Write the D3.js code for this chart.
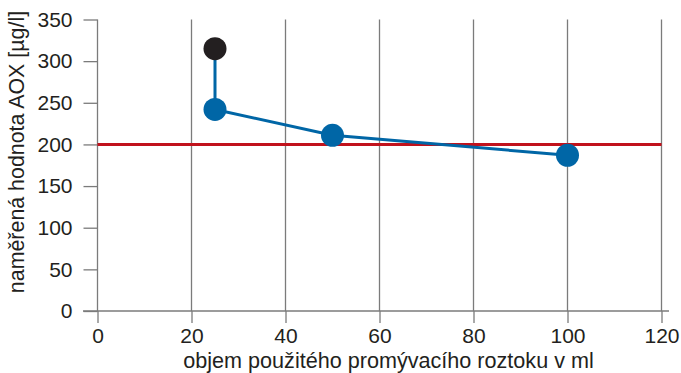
<!DOCTYPE html>
<html><head><meta charset="utf-8">
<script src="https://cdn.jsdelivr.net/npm/d3@7"></script>
<style>body{margin:0;background:#fff}svg{display:block}text{font-family:"Liberation Sans",Arial,sans-serif;fill:#231f20}</style>
</head><body>
<svg id="c" width="681" height="373"></svg>
<script>
const xVals = [25, 25, 50, 100];
const yVals = [315, 242, 211, 187];
const firstPointBlack = true;
const limitValue = 200;
const xTicks = [0, 20, 40, 60, 80, 100, 120];
const yTicks = [0, 50, 100, 150, 200, 250, 300, 350];
const xLabel = "objem použitého promývacího roztoku v ml";
const yLabel = "naměřená hodnota AOX [µg/l]";

const svg = d3.select("#c");
const x = d3.scaleLinear().domain([0, 120]).range([97.5, 661.5]);
const y = d3.scaleLinear().domain([0, 350]).range([311, 19.5]);
const grid = "#7b7b7b";

// vertical grid lines
svg.append("g").selectAll("line").data(xTicks.slice(1)).join("line")
  .attr("x1", d => x(d)).attr("x2", d => x(d))
  .attr("y1", y(350)).attr("y2", y(0))
  .attr("stroke", grid).attr("stroke-width", 1.3);

// x axis
const xa = svg.append("g").attr("transform", `translate(0,${y(0)})`)
  .call(d3.axisBottom(x).tickValues(xTicks).tickSize(12).tickPadding(5).tickFormat(d3.format("d")));
xa.select(".domain").remove();
xa.selectAll(".tick line").attr("stroke", grid).attr("stroke-width", 1.3);
xa.selectAll("text").attr("font-size", 21).style("fill", "#231f20");
svg.append("line").attr("x1", 83).attr("x2", 669).attr("y1", y(0)).attr("y2", y(0))
  .attr("stroke", grid).attr("stroke-width", 1.3);

// y axis
const ya = svg.append("g").attr("transform", `translate(${x(0)},0)`)
  .call(d3.axisLeft(y).tickValues(yTicks).tickSize(14).tickPadding(11).tickFormat(d3.format("d")));
ya.select(".domain").attr("d", `M0,${y(350)}V${y(0)}`).attr("stroke", grid).attr("stroke-width", 1.3);
ya.selectAll(".tick line").attr("stroke", grid).attr("stroke-width", 1.3);
ya.selectAll("text").attr("font-size", 21).style("fill", "#231f20");

// limit line
svg.append("line").attr("x1", x(0)).attr("x2", x(120))
  .attr("y1", y(limitValue)).attr("y2", y(limitValue))
  .attr("stroke", "#c1121c").attr("stroke-width", 3);

// data line
const pts = xVals.map((v, i) => [v, yVals[i]]);
svg.append("path").datum(pts)
  .attr("d", d3.line().x(d => x(d[0])).y(d => y(d[1])))
  .attr("fill", "none").attr("stroke", "#0066a6").attr("stroke-width", 3);
svg.append("g").selectAll("circle").data(pts).join("circle")
  .attr("cx", d => x(d[0])).attr("cy", d => y(d[1])).attr("r", 11.5)
  .attr("fill", (d, i) => (i === 0 && firstPointBlack) ? "#231f20" : "#0066a6");

// labels
svg.append("text").attr("x", 388.5).attr("y", 367.5).attr("text-anchor", "middle")
  .attr("font-size", 21.6).text(xLabel);
svg.append("text").attr("transform", "translate(24,152) rotate(-90)").attr("text-anchor", "middle")
  .attr("font-size", 21.4).text(yLabel);
</script>
</body></html>
